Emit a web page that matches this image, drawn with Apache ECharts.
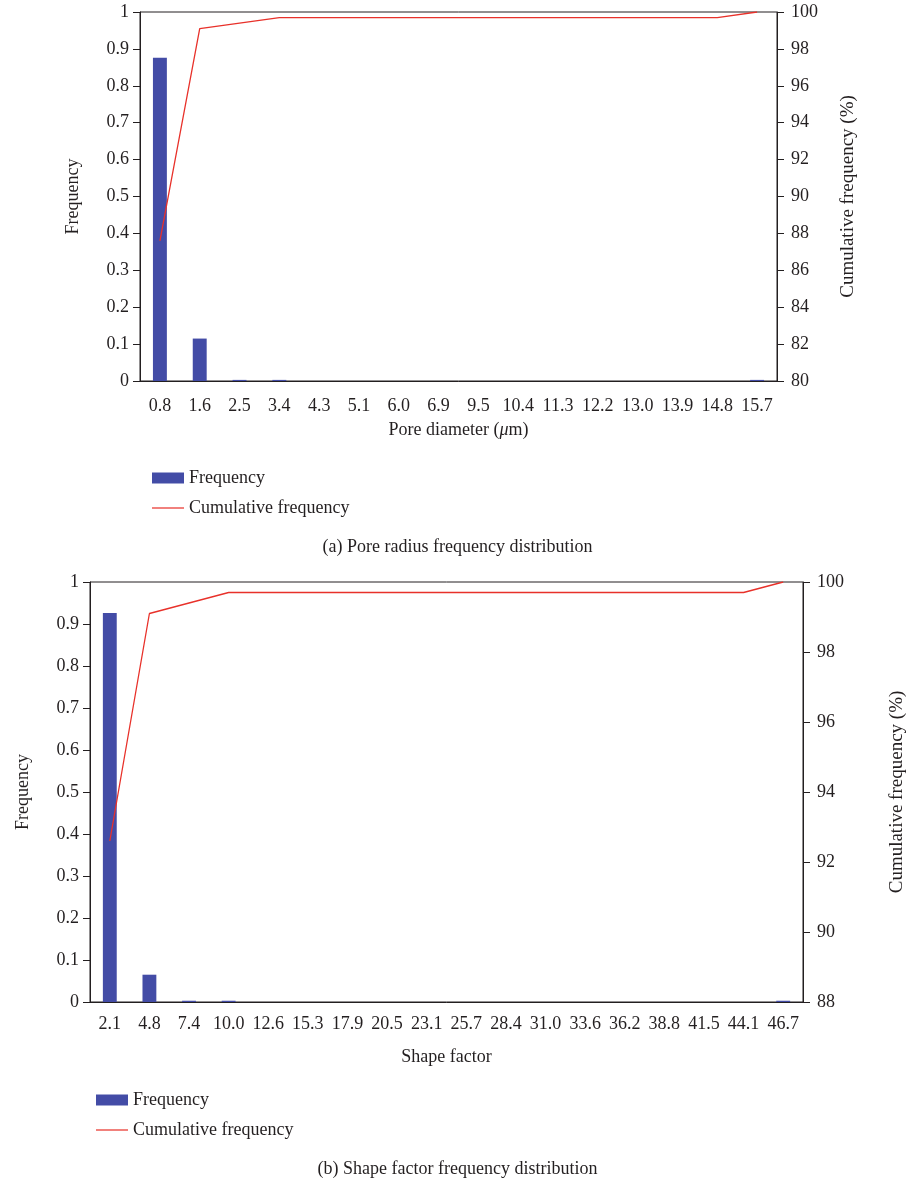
<!DOCTYPE html>
<html>
<head>
<meta charset="utf-8">
<script src="https://cdn.jsdelivr.net/npm/echarts@6/dist/echarts.min.js"></script>
<style>
  html, body { margin: 0; padding: 0; background: #fff; }
  #chart { width: 915px; height: 1183px; }
</style>
</head>
<body>
<div id="chart"></div>
<script>
  // (a) pore diameter
  const poreLabels = ['0.8', '1.6', '2.5', '3.4', '4.3', '5.1', '6.0', '6.9', '9.5', '10.4', '11.3', '12.2', '13.0', '13.9', '14.8', '15.7'];
  const poreFreq = [0.876, 0.115, 0.003, 0.003, 0, 0, 0, 0, 0, 0, 0, 0, 0, 0, 0, 0.003];
  const poreCum = [87.6, 99.1, 99.4, 99.7, 99.7, 99.7, 99.7, 99.7, 99.7, 99.7, 99.7, 99.7, 99.7, 99.7, 99.7, 100];

  // (b) shape factor
  const shapeLabels = ['2.1', '4.8', '7.4', '10.0', '12.6', '15.3', '17.9', '20.5', '23.1', '25.7', '28.4', '31.0', '33.6', '36.2', '38.8', '41.5', '44.1', '46.7'];
  const shapeFreq = [0.926, 0.065, 0.003, 0.003, 0, 0, 0, 0, 0, 0, 0, 0, 0, 0, 0, 0, 0, 0.003];
  const shapeCum = [92.6, 99.1, 99.4, 99.7, 99.7, 99.7, 99.7, 99.7, 99.7, 99.7, 99.7, 99.7, 99.7, 99.7, 99.7, 99.7, 99.7, 100];

  const ink = '#231f20';
  const barColor = '#434ca6';
  const lineColor = '#e8312a';
  const font = '"Liberation Serif", "DejaVu Serif", serif';
  const txt = { color: ink, fontFamily: font, fontSize: 18 };

  function catAxis(idx, labels, name, gap, margin) {
    return {
      type: 'category',
      gridIndex: idx,
      data: labels,
      boundaryGap: true,
      name: name,
      nameLocation: 'middle',
      nameGap: gap,
      nameTextStyle: Object.assign({}, txt, {
        rich: {
          a: txt,
          i: Object.assign({}, txt, { fontStyle: 'italic' })
        }
      }),
      axisLine: { lineStyle: { color: ink, width: 1 } },
      axisTick: { alignWithLabel: true, length: 8, lineStyle: { color: ink } },
      axisLabel: Object.assign({}, txt, { interval: 0, margin: margin }),
      splitLine: { show: false }
    };
  }

  function valAxis(idx, min, max, step, name, gap, pos, size) {
    return {
      type: 'value',
      gridIndex: idx,
      position: pos,
      min: min,
      max: max,
      interval: step,
      name: name,
      nameLocation: 'middle',
      nameGap: gap,
      nameTextStyle: Object.assign({}, txt, { fontSize: size || 18 }),
      axisLine: { show: true, lineStyle: { color: ink, width: 1 } },
      axisTick: { show: true, length: 7, lineStyle: { color: ink } },
      axisLabel: Object.assign({}, txt, { margin: pos === 'right' ? 14 : 11 }),
      splitLine: { show: false }
    };
  }

  function legendData() {
    return [
      { name: 'Frequency', icon: 'rect' },
      { name: 'Cumulative frequency', icon: 'path://M0,0 H34 V1.3 H0 Z' }
    ];
  }

  const chart = echarts.init(document.getElementById('chart'), null, { renderer: 'canvas' });

  const option = {
    animation: false,
    backgroundColor: '#fff',
    title: [
      { text: '(a) Pore radius frequency distribution', left: 'center', top: 533, textStyle: Object.assign({}, txt, { fontWeight: 'normal' }) },
      { text: '(b) Shape factor frequency distribution', left: 'center', top: 1155, textStyle: Object.assign({}, txt, { fontWeight: 'normal' }) }
    ],
    legend: [
      {
        orient: 'vertical', left: 147, top: 464, itemWidth: 32, itemHeight: 11, itemGap: 12,
        textStyle: txt, data: legendData()
      },
      {
        orient: 'vertical', left: 91, top: 1086, itemWidth: 32, itemHeight: 11, itemGap: 12,
        textStyle: txt, data: legendData()
      }
    ],
    grid: [
      { left: 140, right: 138, top: 12, height: 369, show: true, borderColor: ink, borderWidth: 1 },
      { left: 90, right: 106, top: 582, height: 420, show: true, borderColor: ink, borderWidth: 1 }
    ],
    xAxis: [
      catAxis(0, poreLabels, '{a|Pore diameter (}{i|μ}{a|m)}', 40, 16),
      catAxis(1, shapeLabels, 'Shape factor', 46, 13)
    ],
    yAxis: [
      valAxis(0, 0, 1, 0.1, 'Frequency', 58, 'left'),
      valAxis(0, 80, 100, 2, 'Cumulative frequency (%)', 62, 'right', 19),
      valAxis(1, 0, 1, 0.1, 'Frequency', 58, 'left'),
      valAxis(1, 88, 100, 2, 'Cumulative frequency (%)', 85, 'right', 19)
    ],
    series: [
      {
        name: 'Frequency', type: 'bar', xAxisIndex: 0, yAxisIndex: 0,
        barWidth: '35%', itemStyle: { color: barColor }, data: poreFreq
      },
      {
        name: 'Cumulative frequency', type: 'line', xAxisIndex: 0, yAxisIndex: 1,
        symbol: 'none', lineStyle: { color: lineColor, width: 1.3 }, itemStyle: { color: lineColor }, data: poreCum
      },
      {
        name: 'Frequency', type: 'bar', xAxisIndex: 1, yAxisIndex: 2,
        barWidth: '35%', itemStyle: { color: barColor }, data: shapeFreq
      },
      {
        name: 'Cumulative frequency', type: 'line', xAxisIndex: 1, yAxisIndex: 3,
        symbol: 'none', lineStyle: { color: lineColor, width: 1.3 }, itemStyle: { color: lineColor }, data: shapeCum
      }
    ]
  };

  chart.setOption(option);
</script>
</body>
</html>
